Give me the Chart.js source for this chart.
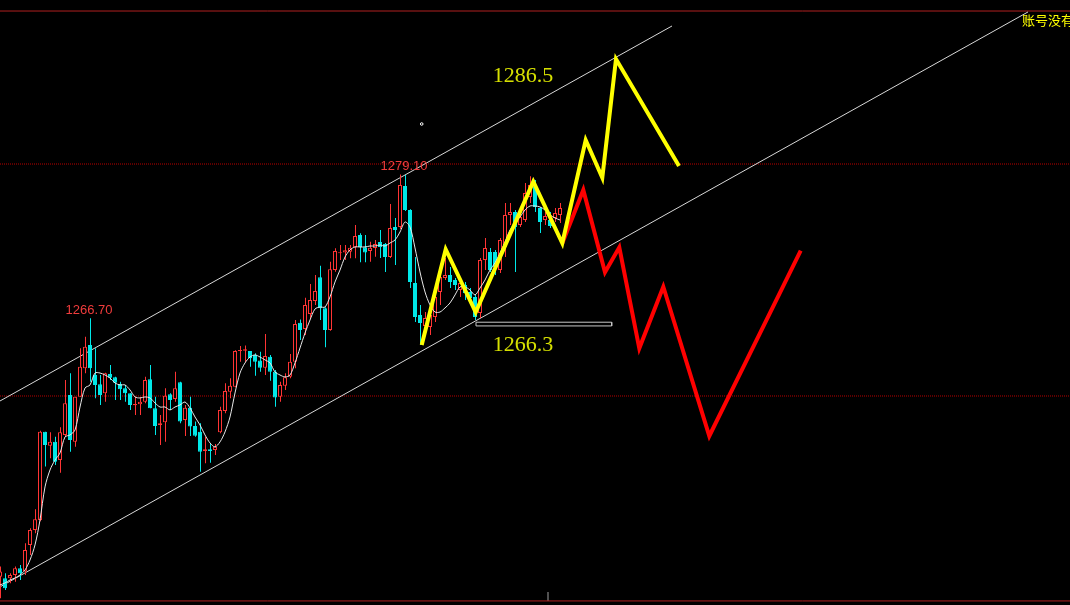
<!DOCTYPE html>
<html lang="zh">
<head>
<meta charset="UTF-8">
<title>K线通道</title>
<script src="https://cdn.jsdelivr.net/npm/chart.js"></script>
<style>
    html, body {
        margin: 0;
        padding: 0;
        background: #000;
        overflow: hidden;
    }
    #wrap {
        width: 1070px;
        height: 605px;
    }
</style>
</head>
<body>
<div id="wrap"><canvas id="kChart" width="1070" height="605"></canvas></div>

<script>
    // candles, one per index
    const opens = [1244.42,1244.29,1244.29,1244.57,1245.15,1244.86,1247.16,1248.45,1249.31,1256.92,
        1255.72,1256.06,1254.48,1256.64,1260.09,1256.06,1259.94,1262.39,1264.40,1261.81,
        1261.01,1260.23,1261.90,1261.61,1261.04,1260.66,1260.23,1259.20,1259.29,1259.51,
        1261.44,1258.94,1257.50,1257.73,1260.15,1259.74,1261.18,1257.93,1258.99,1257.42,
        1256.92,1255.26,1255.41,1255.35,1256.87,1258.71,1260.37,1260.80,1263.88,1263.90,
        1263.88,1263.54,1263.05,1262.44,1263.39,1262.10,1259.94,1260.89,1261.66,1262.96,
        1266.32,1265.78,1267.07,1268.19,1270.23,1267.56,1265.69,1270.86,1272.30,1272.36,
        1272.44,1272.82,1273.88,1272.82,1272.50,1272.76,1273.28,1273.11,1271.98,1274.57,
        1274.57,1278.11,1276.04,1269.74,1266.98,1266.04,1265.95,1266.81,1268.97,1270.17,
        1270.43,1270.00,1269.14,1269.57,1268.97,1268.54,1267.16,1271.73,1272.42,1272.42,
        1270.86,1272.85,1275.61,1275.86,1274.74,1275.17,1277.16,1278.02,1276.21,1275.17,
        1275.17,1275.35,1275.61];
    const highs = [1245.29,1244.72,1244.72,1245.29,1245.43,1247.30,1248.60,1250.23,1257.00,1256.92,
        1256.87,1256.49,1257.30,1261.38,1261.96,1259.94,1264.11,1265.11,1266.70,1264.11,
        1261.81,1262.01,1262.67,1261.66,1261.23,1260.95,1260.23,1259.94,1259.89,1261.66,
        1262.67,1259.94,1258.36,1260.66,1260.23,1262.10,1261.23,1259.23,1259.94,1257.79,
        1257.65,1256.49,1255.92,1255.86,1259.08,1261.10,1261.53,1263.95,1264.31,1264.35,
        1263.88,1263.68,1263.82,1265.35,1263.54,1262.24,1261.23,1261.96,1263.62,1266.55,
        1266.60,1268.48,1269.66,1270.43,1271.23,1267.65,1271.58,1272.73,1273.02,1273.02,
        1273.02,1274.74,1274.03,1273.88,1273.30,1273.45,1274.31,1273.19,1276.55,1275.35,
        1279.10,1279.05,1276.10,1271.98,1267.85,1267.24,1267.59,1268.97,1271.30,1271.90,
        1271.12,1270.17,1270.00,1269.83,1269.31,1268.71,1271.90,1273.62,1272.76,1272.59,
        1273.62,1276.64,1276.64,1276.04,1275.86,1278.36,1278.95,1278.62,1276.30,1275.86,
        1275.86,1276.21,1276.64];
    const lows = [1242.56,1243.28,1243.86,1243.99,1244.14,1244.57,1246.30,1248.17,1249.20,1253.91,
        1254.63,1254.05,1253.39,1256.49,1255.20,1255.63,1259.94,1261.96,1261.23,1259.80,
        1259.23,1259.51,1261.38,1259.66,1259.66,1259.51,1258.80,1258.36,1258.36,1259.37,
        1258.94,1256.64,1255.78,1256.06,1258.80,1259.51,1257.65,1256.55,1256.55,1256.49,
        1253.47,1254.20,1254.25,1254.92,1256.79,1258.51,1259.80,1260.75,1262.96,1262.90,
        1262.53,1261.75,1262.10,1261.81,1261.32,1259.08,1259.51,1260.52,1261.53,1262.39,
        1264.83,1265.26,1266.70,1267.85,1266.55,1264.20,1265.63,1270.72,1271.73,1271.73,
        1271.87,1271.87,1271.53,1271.53,1271.58,1272.01,1271.90,1270.69,1271.90,1271.30,
        1274.40,1275.95,1269.31,1266.38,1264.40,1265.26,1265.26,1266.38,1267.85,1270.00,
        1269.31,1269.14,1268.54,1268.28,1268.02,1266.55,1266.73,1270.86,1270.69,1270.43,
        1270.61,1271.98,1274.74,1270.69,1274.57,1275.00,1276.64,1275.86,1274.05,1274.74,
        1274.48,1275.00,1274.92];
    const closes = [1244.86,1243.42,1244.57,1245.15,1244.72,1246.73,1248.45,1249.37,1256.92,1255.78,
        1256.06,1254.34,1256.87,1259.37,1256.21,1259.94,1262.53,1264.25,1262.39,1260.95,
        1260.09,1261.96,1261.58,1261.15,1260.58,1260.23,1259.23,1259.31,1259.51,1261.38,
        1258.94,1257.42,1257.65,1260.03,1259.66,1260.66,1257.79,1258.99,1257.36,1256.58,
        1255.20,1255.41,1255.26,1255.63,1258.80,1260.43,1260.89,1263.88,1263.97,1264.02,
        1263.25,1262.96,1262.44,1263.45,1262.10,1259.86,1260.95,1261.61,1262.96,1266.21,
        1265.69,1267.85,1268.28,1269.05,1267.56,1265.69,1270.92,1272.50,1272.39,1272.56,
        1272.79,1273.80,1272.82,1272.36,1272.79,1273.11,1272.85,1271.98,1274.48,1274.31,
        1278.19,1276.04,1269.83,1266.80,1266.30,1266.73,1266.98,1268.54,1270.26,1270.43,
        1269.83,1269.57,1269.74,1268.88,1268.45,1266.81,1271.73,1272.76,1270.86,1271.12,
        1273.45,1275.61,1275.86,1274.57,1275.43,1277.50,1278.19,1276.30,1275.00,1275.52,
        1274.66,1275.78,1276.21];

    // white moving average, read per candle
    const maValues = [1243.71,1243.88,1244.14,1244.31,1244.57,1245.00,1245.86,1247.16,1249.31,1252.16,
        1253.62,1254.48,1255.09,1256.47,1256.64,1257.07,1259.05,1260.69,1260.95,1261.98,
        1261.98,1261.81,1261.55,1261.12,1260.95,1260.95,1260.52,1259.92,1259.83,1259.92,
        1259.83,1259.40,1259.05,1259.05,1258.80,1259.05,1259.23,1259.48,1258.97,1258.19,
        1257.50,1256.64,1255.95,1255.61,1256.04,1256.90,1258.19,1260.26,1261.98,1262.85,
        1263.36,1263.54,1263.36,1263.11,1262.85,1262.07,1261.81,1261.64,1261.81,1262.85,
        1264.14,1265.43,1266.55,1267.50,1267.67,1267.67,1268.54,1269.83,1270.86,1271.98,
        1272.59,1272.85,1272.85,1272.85,1272.93,1272.93,1273.02,1272.93,1273.19,1273.45,
        1274.14,1275.00,1274.57,1272.76,1270.69,1268.97,1267.85,1267.24,1267.24,1267.59,
        1268.02,1268.71,1269.40,1269.40,1269.14,1268.71,1269.31,1270.00,1270.86,1271.47,
        1272.33,1273.28,1274.31,1274.92,1275.43,1276.04,1276.38,1276.38,1276.30,1276.04,
        1275.61,1275.35,1275.17];

    // channel lines (start / end)
    const upperChannelX = [0, 134.4];
    const upperChannelY = [1259.57, 1291.90];
    const lowerChannelX = [0, 205.6];
    const lowerChannelY = [1243.54, 1293.11];

    // projected paths
    const yellowPathX = [84.34, 89.14, 95.14, 106.66, 112.46, 117.14, 120.46, 123.2, 135.8];
    const yellowPathY = [1264.40, 1272.65, 1267.22, 1278.48, 1273.17, 1282.07, 1278.82, 1289.05, 1279.83];
    const redPathX = [112.46, 116.66, 121.0, 123.86, 127.86, 132.66, 141.86, 160.14];
    const redPathY = [1273.17, 1277.76, 1270.67, 1272.82, 1264.11, 1269.42, 1256.55, 1272.53];

    // support box under the 1266.3 low
    const boxX = [95.2, 122.34];
    const boxY = [1266.04, 1266.36];

    // horizontal levels
    const dottedLevels = [1280, 1260];
    const frameLevels = [1293.19, 1242.33];
    const tickX = 109.6;
    const tickY = [1242.33, 1243.10];
    const markerPoint = {x: 84.34, y: 1283.45};

    const X_MIN = 0, X_MAX = 214;
    const Y_MIN = 1241.98, Y_MAX = 1294.14;

    const RED = '#ff3434';
    const CYAN = '#00e8e8';

    function pts(xs, ys) {
        return xs.map((x, i) => ({x: x, y: ys[i]}));
    }

    // split candles into rising (hollow red) and falling (filled cyan)
    let upBodies = [], downBodies = [], upWicks = [], downWicks = [];
    opens.forEach((o, i) => {
        let up = closes[i] >= o;
        (up ? upBodies : downBodies).push({x: i, y: [o, closes[i]]});
        (up ? upWicks : downWicks).push({x: i, y: [lows[i], highs[i]]});
    });

    let boxPts = [
        {x: boxX[0], y: boxY[1]}, {x: boxX[1], y: boxY[1]},
        {x: boxX[1], y: boxY[0]}, {x: boxX[0], y: boxY[0]}, {x: boxX[0], y: boxY[1]}
    ];

    function lineSet(data, color, width, order, extra) {
        return Object.assign({
            type: 'line',
            data: data,
            borderColor: color,
            borderWidth: width,
            pointRadius: 0,
            pointHoverRadius: 0,
            fill: false,
            tension: 0,
            order: order
        }, extra || {});
    }

    function barSet(data, fill, border, thickness, order, axis) {
        return {
            type: 'bar',
            data: data,
            xAxisID: axis || 'x',
            backgroundColor: fill,
            borderColor: border,
            borderWidth: thickness > 1 ? 1 : 0,
            borderSkipped: false,
            barThickness: thickness,
            minBarLength: 1,
            inflateAmount: 0,
            grouped: false,
            order: order
        };
    }

    let datasets = [];
    dottedLevels.forEach(v => {
        datasets.push(lineSet(pts([X_MIN, X_MAX], [v, v]), '#b80000', 1, 9, {borderDash: [1, 1]}));
    });
    frameLevels.forEach(v => {
        datasets.push(lineSet(pts([X_MIN, X_MAX], [v, v]), '#b02020', 1, 9));
    });
    datasets.push(lineSet(pts([tickX, tickX], tickY), '#a0a0a0', 1, 9));
    datasets.push(lineSet(pts(upperChannelX, upperChannelY), '#d8d8d8', 1, 8));
    datasets.push(lineSet(pts(lowerChannelX, lowerChannelY), '#d8d8d8', 1, 8));
    // wicks sit on a half-pixel shifted copy of the x axis so the 1px line lands crisp
    datasets.push(barSet(upWicks, RED, RED, 1, 7, 'xw'));
    datasets.push(barSet(downWicks, CYAN, CYAN, 1, 7, 'xw'));
    datasets.push(barSet(upBodies, '#000', RED, 4, 6));
    datasets.push(barSet(downBodies, CYAN, CYAN, 4, 6));
    datasets.push(lineSet(maValues.map((v, i) => ({x: i, y: v})), '#e8e8e8', 1, 5, {tension: 0.3}));
    datasets.push(lineSet(boxPts, '#c8c8c8', 1, 4));
    datasets.push(lineSet(pts(redPathX, redPathY), '#ff0000', 4, 3, {borderJoinStyle: 'miter'}));
    datasets.push(lineSet(pts(yellowPathX, yellowPathY), '#ffff00', 4, 2, {borderJoinStyle: 'miter'}));
    datasets.push(lineSet([markerPoint], '#ffffff', 1, 1, {
        showLine: false, pointRadius: 1.3, pointBackgroundColor: '#000', pointBorderColor: '#fff'
    }));

    // price labels and notes
    const notes = [
        {text: '1279.10', x: 80.8, y: 1279.48, font: '13px "Liberation Sans"', color: '#f03c3c', align: 'center'},
        {text: '1266.70', x: 17.8, y: 1267.07, font: '13px "Liberation Sans"', color: '#f03c3c', align: 'center'},
        {text: '1286.5', x: 98.54, y: 1287.07, font: '22px "Liberation Serif"', color: '#d6e000', align: 'left'},
        {text: '1266.3', x: 98.54, y: 1263.88, font: '22px "Liberation Serif"', color: '#d6e000', align: 'left'}
    ];

    const notePlugin = {
        id: 'notes',
        afterDatasetsDraw(chart) {
            const ctx = chart.ctx;
            const xs = chart.scales.x, ys = chart.scales.y;
            ctx.save();
            ctx.textBaseline = 'alphabetic';
            notes.forEach(n => {
                ctx.font = n.font;
                ctx.fillStyle = n.color;
                ctx.textAlign = n.align;
                ctx.fillText(n.text, xs.getPixelForValue(n.x), ys.getPixelForValue(n.y));
            });
            // account notice in the top right corner
            ctx.font = '13px "Noto Sans CJK SC"';
            ctx.fillStyle = '#ffff00';
            ctx.textAlign = 'left';
            ctx.textBaseline = 'middle';
            ctx.fillText('账号没有登录', chart.chartArea.right - 48, 20);
            ctx.restore();
        }
    };

    new Chart(document.getElementById('kChart').getContext('2d'), {
        type: 'bar',
        data: {datasets: datasets},
        options: {
            responsive: false,
            animation: false,
            events: [],
            layout: {padding: 0, autoPadding: false},
            plugins: {
                legend: {display: false},
                tooltip: {enabled: false}
            },
            scales: {
                x: {type: 'linear', min: X_MIN, max: X_MAX, offset: false, display: false},
                xw: {type: 'linear', axis: 'x', min: X_MIN - 0.1, max: X_MAX - 0.1, offset: false, display: false},
                y: {type: 'linear', min: Y_MIN, max: Y_MAX, display: false}
            }
        },
        plugins: [notePlugin]
    });
</script>
</body>
</html>
